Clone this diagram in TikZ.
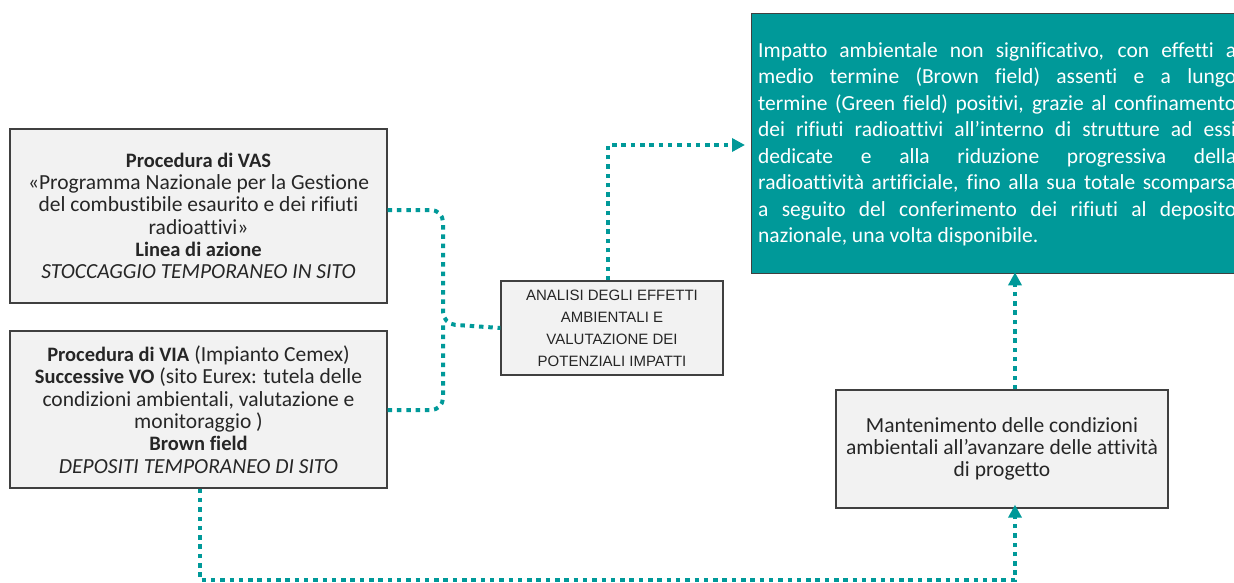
\documentclass[tikz,border=0pt]{standalone}
\usepackage{fontspec}
\setmainfont{Carlito}[Ligatures=NoCommon]
\newfontfamily\arialfont{Liberation Sans}
\usetikzlibrary{arrows.meta}
\definecolor{teal1}{RGB}{0,153,153}
\definecolor{boxgray}{RGB}{242,242,242}
\definecolor{bordergray}{RGB}{64,64,64}
\newcommand\bt[1]{{\fontsize{20.5}{22.3}\selectfont\bfseries #1}}
\begin{document}
\begin{tikzpicture}[x=1pt,y=-1pt,
  graybox/.style={draw=bordergray,line width=1.3pt,fill=boxgray,inner sep=0pt,
    align=center,text=black!85,font=\fontsize{21.5}{22.3}\selectfont},
  conn/.style={draw=teal1,line width=4pt,dash pattern=on 4.5pt off 4.8pt},
  tip/.style={-{Triangle[length=13pt,width=13pt]}}]
\clip (0,0) rectangle (1234,583);
\useasboundingbox (0,0) rectangle (1234,583);
% boxes
\node[graybox,minimum width=377pt,minimum height=174pt] (vas) at (198.5,216)
 {\bt{Procedura di VAS}\\«Programma Nazionale per la Gestione\\del combustibile esaurito e dei rifiuti\\radioattivi»\\\bt{Linea di azione}\\\textit{STOCCAGGIO TEMPORANEO IN SITO}};
\node[graybox,minimum width=377pt,minimum height=157pt] (via) at (198.5,409.5)
 {\bt{Procedura di VIA} (Impianto Cemex)\\\bt{Successive VO} (sito Eurex: tutela delle\\condizioni ambientali, valutazione e\\monitoraggio )\\\bt{Brown field}\\\textit{DEPOSITI TEMPORANEO DI SITO}};
\node[graybox,minimum width=222pt,minimum height=94pt,font=\arialfont\fontsize{15}{22}\selectfont] (ana) at (612,328)
 {ANALISI DEGLI EFFETTI\\AMBIENTALI E\\VALUTAZIONE DEI\\POTENZIALI IMPATTI};
\node[graybox,minimum width=332pt,minimum height=118pt] (man) at (1002,449)
 {Mantenimento delle condizioni\\ambientali all’avanzare delle attività\\di progetto};
\node[draw=bordergray,line width=1.3pt,fill=teal1,minimum width=500pt,minimum height=260pt,inner sep=0pt,anchor=north west] (green) at (751,13) {};
\node[anchor=west,inner sep=0pt,text=white,font=\fontsize{21.5}{26.5}\selectfont] (gtext) at (758,144.5)
 {\parbox{478pt}{Impatto ambientale non significativo, con effetti a\linebreak
 medio termine (Brown field) assenti e a lungo\linebreak
 termine (Green field) positivi, grazie al confinamento\linebreak
 dei rifiuti radioattivi all’interno di strutture ad essi\linebreak
 dedicate e alla riduzione progressiva della\linebreak
 radioattività artificiale, fino alla sua totale scomparsa\linebreak
 a seguito del conferimento dei rifiuti al deposito\linebreak
 nazionale, una volta disponibile.}};
% coordinates
\coordinate (j) at (443,324);
\coordinate (c1) at (608,145);
\coordinate (c2) at (200,580);
\coordinate (c3) at (1015,580);
% connectors
\draw[conn,rounded corners=12pt] (vas.east |- 0,210) -| (j) -- (ana.west);
\draw[conn,rounded corners=12pt] (via.east |- 0,410) -| (j);
\draw[conn,tip] (ana.north -| c1) |- ([xshift=-6pt]green.west |- c1);
\draw[conn,tip] (via.south -| c2) -- (c2) -- (c3) -- ([yshift=4pt]man.south -| c3);
\draw[conn,tip] (man.north -| c3) -- ([yshift=2pt]green.south -| c3);
\end{tikzpicture}
\end{document}
